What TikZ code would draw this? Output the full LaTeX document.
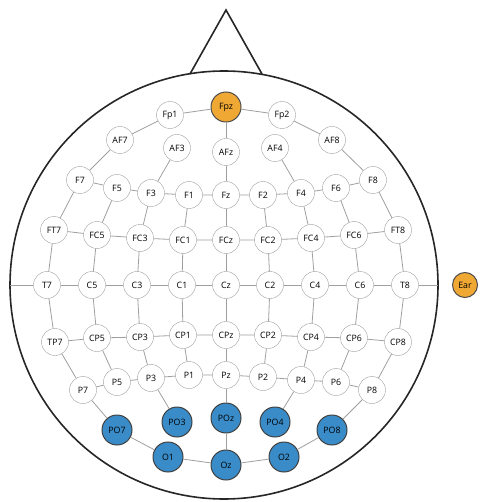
\documentclass[tikz,border=0pt]{standalone}
\usepackage{fontspec}
\setmainfont{Open Sans}
\definecolor{refOrange}{RGB}{240,168,52}
\definecolor{selBlue}{RGB}{58,140,200}
\begin{document}
\begin{tikzpicture}[
    x=1pt, y=-1pt,
    font=\fontsize{8.8}{9}\selectfont,
    elec/.style={circle, draw=gray!75, fill=white, minimum size=27pt, inner sep=0pt},
    refel/.style={elec, fill=refOrange, draw=black!70, line width=1pt, minimum size=30pt},
    selel/.style={elec, fill=selBlue, draw=black!75, line width=1pt, minimum size=30pt},
    wire/.style={gray!75, line width=0.8pt},
    head/.style={black!85, line width=1.6pt}]
  \useasboundingbox (0,0) rectangle (479,502);
  % head and nose
  \draw[head] (224,285) circle[radius=214];
  \draw[head] (190,74) -- (226,10) -- (262,74);
  \coordinate (lEdge) at (10,285);
  \coordinate (rEdge) at (438,285);
  % ear reference
  \node[refel, minimum size=25pt] (Ear) at (465,285) {Ear};
  % frontal pole
  \node[elec] (Fp1) at (170,115) {Fp1};
  \node[refel] (Fpz) at (226,107) {Fpz};
  \node[elec] (Fp2) at (282,115) {Fp2};
  % anterior frontal
  \node[elec] (AF7) at (120,140) {AF7};
  \node[elec] (AF3) at (177,148) {AF3};
  \node[elec] (AFz) at (226,152) {AFz};
  \node[elec] (AF4) at (275,148) {AF4};
  \node[elec] (AF8) at (332,140) {AF8};
  % frontal
  \node[elec] (F7) at (80,180) {F7};
  \node[elec] (F5) at (117,188) {F5};
  \node[elec] (F3) at (151,193) {F3};
  \node[elec] (F1) at (189,195) {F1};
  \node[elec] (Fz) at (226,195) {Fz};
  \node[elec] (F2) at (263,195) {F2};
  \node[elec] (F4) at (301,193) {F4};
  \node[elec] (F6) at (336,188) {F6};
  \node[elec] (F8) at (373,180) {F8};
  % fronto-central
  \node[elec] (FT7) at (54,230) {FT7};
  \node[elec] (FC5) at (97,235) {FC5};
  \node[elec] (FC3) at (140,238) {FC3};
  \node[elec] (FC1) at (183,240) {FC1};
  \node[elec] (FCz) at (226,240) {FCz};
  \node[elec] (FC2) at (268,240) {FC2};
  \node[elec] (FC4) at (311,238) {FC4};
  \node[elec] (FC6) at (354,235) {FC6};
  \node[elec] (FT8) at (398,230) {FT8};
  % central
  \node[elec] (T7) at (47,285) {T7};
  \node[elec] (C5) at (92,285) {C5};
  \node[elec] (C3) at (137,285) {C3};
  \node[elec] (C1) at (182,285) {C1};
  \node[elec] (Cz) at (226,285) {Cz};
  \node[elec] (C2) at (270,285) {C2};
  \node[elec] (C4) at (315,285) {C4};
  \node[elec] (C6) at (360,285) {C6};
  \node[elec] (T8) at (405,285) {T8};
  % centro-parietal
  \node[elec] (TP7) at (55,342) {TP7};
  \node[elec] (CP5) at (97,338) {CP5};
  \node[elec] (CP3) at (140,337) {CP3};
  \node[elec] (CP1) at (183,335) {CP1};
  \node[elec] (CPz) at (226,335) {CPz};
  \node[elec] (CP2) at (268,335) {CP2};
  \node[elec] (CP4) at (311,337) {CP4};
  \node[elec] (CP6) at (354,338) {CP6};
  \node[elec] (CP8) at (398,342) {CP8};
  % parietal
  \node[elec] (P7) at (83,390) {P7};
  \node[elec] (P5) at (117,382) {P5};
  \node[elec] (P3) at (151,378) {P3};
  \node[elec] (P1) at (189,375) {P1};
  \node[elec] (Pz) at (226,375) {Pz};
  \node[elec] (P2) at (263,377) {P2};
  \node[elec] (P4) at (301,380) {P4};
  \node[elec] (P6) at (336,382) {P6};
  \node[elec] (P8) at (372,390) {P8};
  % parieto-occipital and occipital (selected)
  \node[selel] (PO7) at (117,430) {PO7};
  \node[selel] (PO3) at (177,422) {PO3};
  \node[selel] (POz) at (226,418) {POz};
  \node[selel] (PO4) at (275,422) {PO4};
  \node[selel] (PO8) at (332,430) {PO8};
  \node[selel] (O1) at (168,457) {O1};
  \node[selel] (Oz) at (226,465) {Oz};
  \node[selel] (O2) at (284,457) {O2};
  % rows
  \draw[wire] (Fp1) -- (Fpz) -- (Fp2);
  \draw[wire] (F7) -- (F5) -- (F3) -- (F1) -- (Fz) -- (F2) -- (F4) -- (F6) -- (F8);
  \draw[wire] (FT7) -- (FC5) -- (FC3) -- (FC1) -- (FCz) -- (FC2) -- (FC4) -- (FC6) -- (FT8);
  \draw[wire] (lEdge) -- (T7) -- (C5) -- (C3) -- (C1) -- (Cz) -- (C2) -- (C4) -- (C6) -- (T8) -- (rEdge);
  \draw[wire] (TP7) -- (CP5) -- (CP3) -- (CP1) -- (CPz) -- (CP2) -- (CP4) -- (CP6) -- (CP8);
  \draw[wire] (P7) -- (P5) -- (P3) -- (P1) -- (Pz) -- (P2) -- (P4) -- (P6) -- (P8);
  \draw[wire] (PO7) -- (O1) -- (Oz) -- (O2) -- (PO8);
  % columns
  \draw[wire] (Fp1) -- (AF7) -- (F7) -- (FT7) -- (T7) -- (TP7) -- (P7) -- (PO7);
  \draw[wire] (Fp2) -- (AF8) -- (F8) -- (FT8) -- (T8) -- (CP8) -- (P8) -- (PO8);
  \draw[wire] (F5) -- (FC5) -- (C5) -- (CP5) -- (P5);
  \draw[wire] (F6) -- (FC6) -- (C6) -- (CP6) -- (P6);
  \draw[wire] (AF3) -- (F3) -- (FC3) -- (C3) -- (CP3) -- (P3) -- (PO3);
  \draw[wire] (AF4) -- (F4) -- (FC4) -- (C4) -- (CP4) -- (P4) -- (PO4);
  \draw[wire] (F1) -- (FC1) -- (C1) -- (CP1) -- (P1);
  \draw[wire] (F2) -- (FC2) -- (C2) -- (CP2) -- (P2);
  \draw[wire] (Fpz) -- (AFz) -- (Fz) -- (FCz) -- (Cz) -- (CPz) -- (Pz) -- (POz) -- (Oz);
\end{tikzpicture}
\end{document}
